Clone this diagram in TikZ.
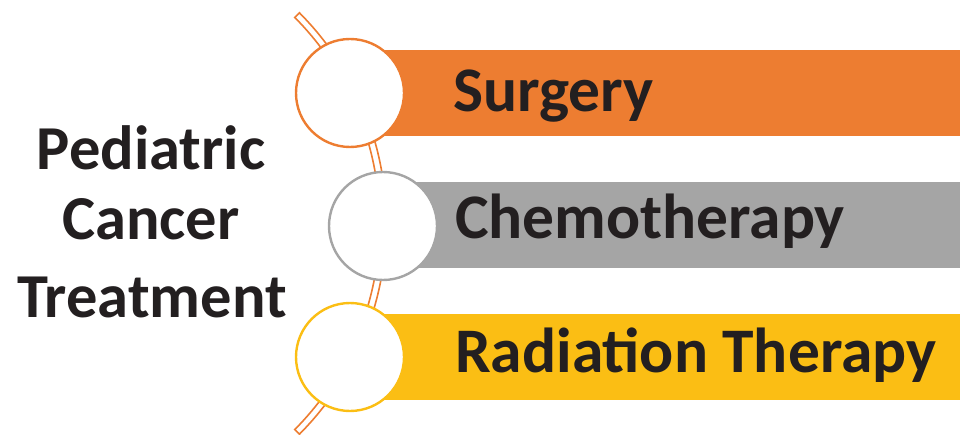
\documentclass[tikz,border=0pt]{standalone}
\usepackage{fontspec}
\setmainfont{Carlito}
\definecolor{corange}{HTML}{ED7D31}
\definecolor{cgray}{HTML}{A5A5A5}
\definecolor{cyellow}{HTML}{FBBE14}
\definecolor{ctext}{HTML}{231F20}
\begin{document}
\begin{tikzpicture}[x=1pt,y=1pt,
  ring/.style={circle, draw, line width=2.4pt, fill=white, minimum size=108pt, inner sep=0pt},
  lbl/.style={anchor=base west, inner sep=0pt, text=ctext, font=\fontsize{63.5}{66}\selectfont\bfseries},
  title/.style={anchor=base, inner sep=0pt, text=ctext, font=\fontsize{62.5}{65}\selectfont\bfseries}]
\useasboundingbox (0,0) rectangle (960,434);
% connecting double arc
\coordinate (ac) at (87.3,210.5);
\draw[corange, line width=1.6pt, fill=white, line join=miter]
  ([shift={(ac)}]44.8:299) arc[start angle=44.8, end angle=-44.8, radius=299]
  -- ([shift={(ac)}]-44.8:292.4) arc[start angle=-44.8, end angle=44.8, radius=292.4] -- cycle;
% bars
\fill[corange] (350,298) rectangle (960,384);
\fill[cgray] (383,166) rectangle (960,252);
\fill[cyellow] (350,34) rectangle (960,120);
% circles
\node[ring, draw=corange] (c1) at (350,341) {};
\node[ring, draw=cgray] (c2) at (383,208) {};
\node[ring, draw=cyellow] (c3) at (350,77) {};
% labels
\node[lbl] (l1) at (453,322) {Surgery};
\node[lbl] (l2) at (455,196) {Chemotherapy};
\node[lbl] (l3) at (455,62) {Radiation Therapy};
% title
\node[title] (t1) at (151,264) {Pediatric};
\node[title] (t2) at (151,194) {Cancer};
\node[title] (t3) at (152,117) {Treatment};
\end{tikzpicture}
\end{document}
